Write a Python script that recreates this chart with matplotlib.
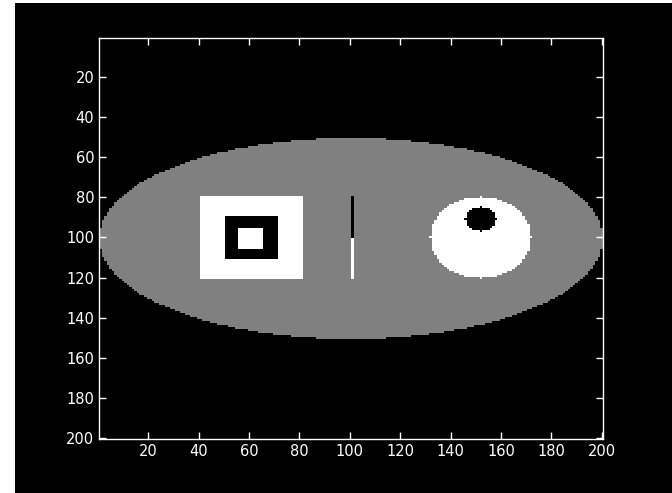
import matplotlib
matplotlib.use("Agg")
import matplotlib.pyplot as plt
import numpy as np
from matplotlib.patches import Rectangle

# image size and gray levels
n = 200
levels = [0.0, 0.5, 1.0]  # black, gray, white

# ellipse: center row, center col, semi-axis rows, semi-axis cols
ellipse = [100.5, 100.5, 50, 100]
# rectangles: row0, row1, col0, col1, value
rects = [
    [80, 120, 41, 81, 1.0],
    [90, 110, 51, 71, 0.0],
    [96, 105, 56, 65, 1.0],
    [80, 100, 101, 101, 0.0],
    [101, 120, 101, 101, 1.0],
]
# disks: center row, center col, radius, value
disks = [
    [100, 152, 20, 1.0],
    [91, 152, 6, 0.0],
]

rows, cols = np.mgrid[1:n + 1, 1:n + 1]
img = np.zeros((n, n))
inside = ((rows - ellipse[0]) / ellipse[2]) ** 2 + ((cols - ellipse[1]) / ellipse[3]) ** 2 <= 1
img[inside] = levels[1]
for r0, r1, c0, c1, v in rects:
    img[(rows >= r0) & (rows <= r1) & (cols >= c0) & (cols <= c1)] = v
for cr, cc, rad, v in disks:
    img[(rows - cr) ** 2 + (cols - cc) ** 2 <= rad ** 2] = v

fig = plt.figure(figsize=(6.72, 4.93), dpi=100)
fig.patch.set_facecolor("white")
bg = Rectangle((15 / 672, 0), 1, 490 / 493, transform=fig.transFigure,
               facecolor="black", edgecolor="none", zorder=-10)
fig.add_artist(bg)

ax = fig.add_axes([99 / 672, 1 - 439 / 493, 504 / 672, 401 / 493])
ax.set_zorder(5)
ax.imshow(img, cmap="gray", vmin=0, vmax=1, interpolation="nearest",
          extent=[0.5, n + 0.5, n + 0.5, 0.5], aspect="auto")
ax.set_facecolor("black")
ax.set_xticks(np.arange(20, 201, 20))
ax.set_yticks(np.arange(20, 201, 20))
ax.tick_params(colors="white", direction="in", top=True, right=True,
               length=5, width=1, labelsize=10.5)
for s in ax.spines.values():
    s.set_color("white")
    s.set_linewidth(1)

fig.savefig("out.png", dpi=100, facecolor=fig.get_facecolor())
